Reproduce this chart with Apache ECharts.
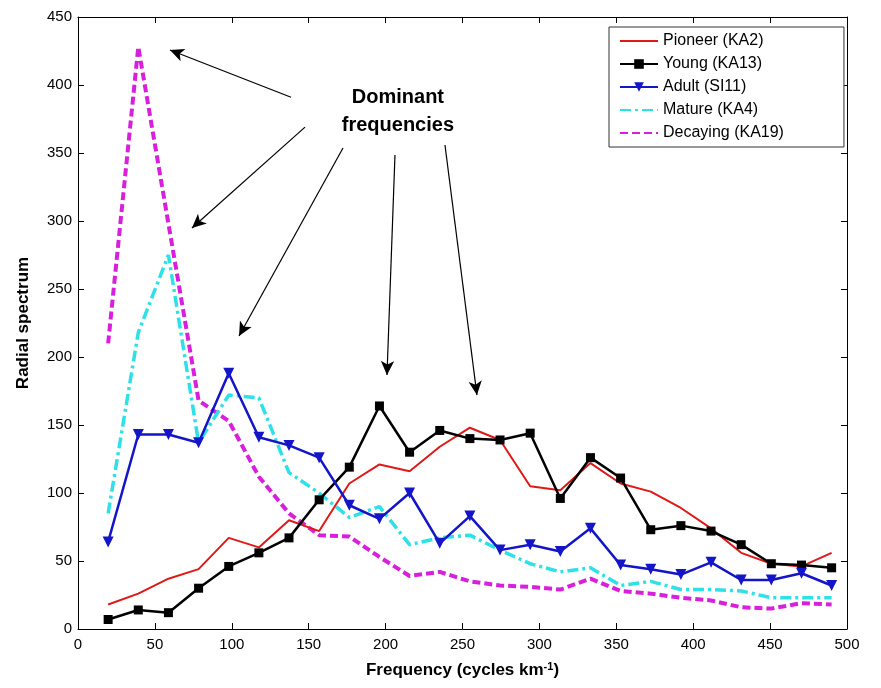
<!DOCTYPE html>
<html><head><meta charset="utf-8">
<script src="https://cdn.jsdelivr.net/npm/echarts@6/dist/echarts.min.js"></script>
<style>html,body{margin:0;padding:0;background:#fff}#c{width:881px;height:688px}</style>
</head><body><div id="c"></div>
<script>
var freq = [19.6,39.2,58.8,78.4,98,117.6,137.2,156.8,176.4,196,215.6,235.2,254.8,274.4,294,313.6,333.2,352.8,372.4,392,411.6,431.2,450.8,470.4,490];
var pioneer = [18,26,37,44,67,60,80,72,107,121,116,134,148,139,105,102,122,107,101,89,74,56,48,46,56];
var young = [7,14,12,30,46,56,67,95,119,164,130,146,140,139,144,96,126,111,73,76,72,62,48,47,45];
var adult = [64,143,143,137,188,141,135,126,91,81,100,63,83,58,62,57,74,47,44,40,49,36,36,41,32];
var mature = [85,218,275,137,172,170,115,100,82,90,62,67,69,58,48,42,45,32,35,29,29,28,23,23,23];
var decaying = [210,428,298,168,153,112,85,69,68,53,39,42,35,32,31,29,37,28,26,23,21,16,15,19,18];
var names = ['Pioneer (KA2)','Young (KA13)','Adult (SI11)','Mature (KA4)','Decaying (KA19)'];
var xTicks = [0,50,100,150,200,250,300,350,400,450,500];
var yTicks = [0,50,100,150,200,250,300,350,400,450];
// annotation arrows [fromX, fromY, toX, toY] in data units
var arrows = [[138.5,391,59.8,425.7],[147.6,369,74.1,294.9],[172.3,353.7,104.7,215.4],[206.1,348.5,200.9,186.8],[238.6,355.9,259.4,172]];
var annotText = ['Dominant','frequencies'];
// annotation text anchors [x, y] in data units
var annotPos = [[208,391],[208,370.5]];

function pairs(v){ return v.map(function(y,i){ return [freq[i], y]; }); }
var chart = echarts.init(document.getElementById('c'));
var axisCommon = {
  type:'value', axisLine:{show:true, onZero:false, lineStyle:{color:'#000', width:1}},
  axisTick:{show:true, inside:true, length:6, lineStyle:{color:'#000'}},
  splitLine:{show:false}
};
var font = 'Liberation Sans, Arial, sans-serif';
var lineMarkData = arrows.map(function(a){ return [{coord:[a[0],a[1]]},{coord:[a[2],a[3]]}]; });
var noSym = {opacity:0};
var option = {
  animation:false,
  backgroundColor:'#fff',
  grid:{left:78, right:34, top:17, bottom:59},
  xAxis:[
    Object.assign({}, axisCommon, {min:0, max:500, interval:50, position:'bottom',
      axisLabel:{color:'#000', fontSize:15, fontFamily:font, margin:8},
      name:'{a|Frequency (cycles km}{s|-1}{a|)}', nameLocation:'middle', nameGap:32,
      nameTextStyle:{rich:{a:{fontSize:17, fontWeight:'bold', fontFamily:font, color:'#000'}, s:{fontSize:11, fontWeight:'bold', fontFamily:font, color:'#000', verticalAlign:'top', padding:[0,0,8,0]}}}}),
    Object.assign({}, axisCommon, {min:0, max:500, interval:50, position:'top', axisLabel:{show:false}})
  ],
  yAxis:[
    Object.assign({}, axisCommon, {min:0, max:450, interval:50, position:'left',
      axisLabel:{color:'#000', fontSize:15, fontFamily:font, margin:6},
      name:'Radial spectrum', nameLocation:'middle', nameGap:46,
      nameTextStyle:{fontSize:17, fontWeight:'bold', fontFamily:font, color:'#000'}}),
    Object.assign({}, axisCommon, {min:0, max:450, interval:50, position:'right', axisLabel:{show:false}})
  ],
  legend:{
    orient:'vertical', left:609, top:27, width:233,
    backgroundColor:'#fff', borderColor:'#333', borderWidth:1,
    padding:[6,60,6,10], itemGap:7, itemWidth:38, itemHeight:12,
    textStyle:{fontSize:16, fontFamily:font, color:'#000'},
    data:[
      {name:names[0], itemStyle:noSym},
      {name:names[1]},
      {name:names[2]},
      {name:names[3], itemStyle:noSym},
      {name:names[4], itemStyle:noSym}
    ]
  },
  series:[
    {name:names[0], type:'line', data:pairs(pioneer), showSymbol:false, symbol:'none',
     lineStyle:{color:'#e01818', width:2}, itemStyle:{color:'#e01818'}, z:3,
     markLine:{silent:true, symbol:['none','arrow'], symbolSize:[10,14],
       lineStyle:{color:'#000', width:1.2, type:'solid'}, label:{show:false}, data:lineMarkData}},
    {name:names[1], type:'line', data:pairs(young), symbol:'rect', symbolSize:9,
     lineStyle:{color:'#000', width:2.5}, itemStyle:{color:'#000'}, z:4},
    {name:names[2], type:'line', data:pairs(adult), symbol:'triangle', symbolRotate:180, symbolSize:11,
     lineStyle:{color:'#1414c8', width:2.5}, itemStyle:{color:'#1414c8'}, z:5},
    {name:names[3], type:'line', data:pairs(mature), symbol:'none',
     lineStyle:{color:'#2ee0e8', width:3.5, type:[11,4,3,4]}, itemStyle:{color:'#2ee0e8'}, z:2},
    {name:names[4], type:'line', data:pairs(decaying), symbol:'none',
     lineStyle:{color:'#d820dc', width:4, type:[8,4]}, itemStyle:{color:'#d820dc'}, z:1}
  ]
};
chart.setOption(option);
var tf = 'bold 20px Liberation Sans, Arial, sans-serif';
chart.setOption({graphic:annotText.map(function(t,i){
  var p = chart.convertToPixel({xAxisIndex:0, yAxisIndex:0}, annotPos[i]);
  return {type:'text', x:p[0], y:p[1], style:{text:t, font:tf, fill:'#000', align:'center', verticalAlign:'middle'}};
})});
</script></body></html>
